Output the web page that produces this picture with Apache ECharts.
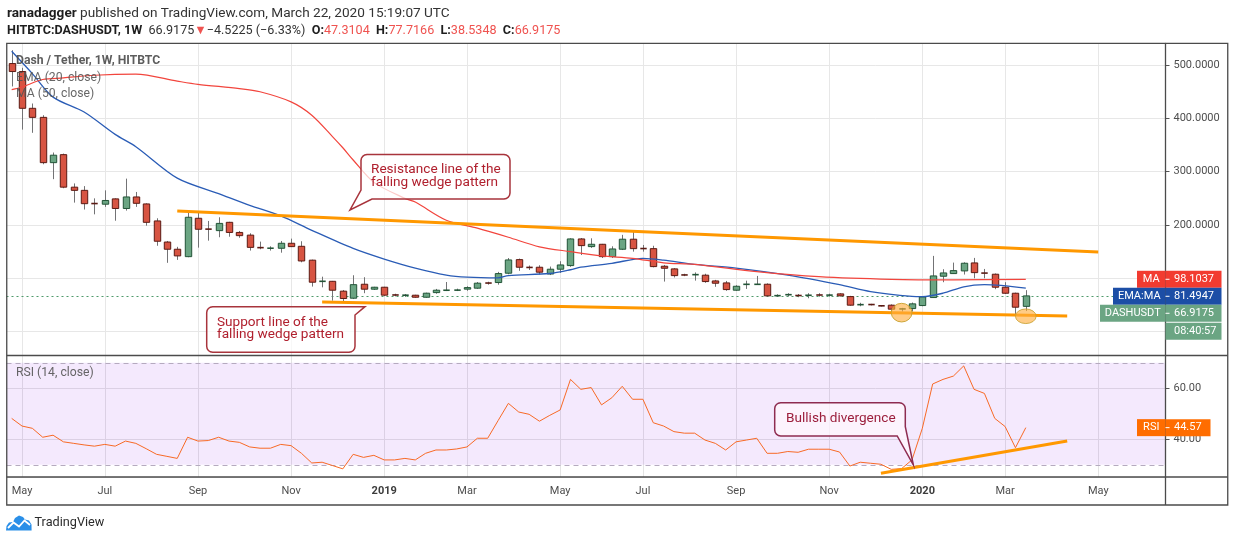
<!DOCTYPE html>
<html>
<head>
<meta charset="utf-8">
<title>DASHUSDT 1W</title>
<script src="https://cdn.jsdelivr.net/npm/echarts@6.0.0/dist/echarts.min.js"></script>
<style>
  html, body { margin: 0; padding: 0; background: #fff; }
  #chart { width: 1234px; height: 541px; }
</style>
</head>
<body>
<div id="chart"></div>
<script>
const FONT = 'Roboto, "Open Sans", sans-serif';
const MONTHS = ['Jan', 'Feb', 'Mar', 'Apr', 'May', 'Jun', 'Jul', 'Aug', 'Sep', 'Oct', 'Nov', 'Dec'];

// weekly bars, keyed by the Monday each one opens on
const firstWeek = '2018-04-30';
const weekCount = 112; // 99 traded weeks + the empty space kept on the right
const weeks = [];
for (let i = 0; i < weekCount; i++) {
  const d = new Date(Date.parse(firstWeek + 'T00:00:00Z') + i * 7 * 86400000);
  weeks.push(d.toISOString().slice(0, 10));
}

const opens = [503, 488, 419, 402, 317, 332, 271, 265, 241, 239, 249, 231, 252.6, 239.5, 207.6, 168, 154.5, 140.6, 212.6, 193,
  189.4, 205, 186, 181, 158, 156, 156.3, 165.7, 160, 134, 93, 94.3, 75.8, 62.6, 88.8, 79.5, 83.2, 69, 68, 68.2,
  64.4, 73.1, 77.3, 77.5, 79.6, 81.4, 91.3, 92, 109.5, 135, 120.7, 120.7, 108, 117, 123.8, 173.8, 159.4, 163.8, 140.6, 154.5,
  173.3, 156, 155.6, 122.6, 117.6, 106.5, 106, 105.8, 95, 91.3, 77.6, 88.5, 88.5, 88.8, 67.3, 69, 67.8, 68, 68.7, 68.3,
  70.7, 65.6, 50.4, 50.8, 48.4, 49.5, 42.4, 43.1, 48.8, 63.8, 103.8, 108.8, 113.8, 128.8, 110, 107.6, 83.2, 71.9, 47.3104];
const closes = [488, 419, 402, 317, 331, 271, 265, 240, 239.5, 246, 231, 252.6, 240.7, 205, 169.5, 154.5, 142, 214.5, 192, 191.5,
  203, 186, 180, 158, 157, 156.8, 165.7, 159.4, 132.5, 92.6, 95.6, 77.6, 62, 88, 79.5, 83.2, 68.3, 68.3, 68.5, 64.4,
  72, 77.6, 77.8, 78, 82.5, 90.8, 90.8, 108.8, 134.4, 120.7, 120, 111.4, 117, 125, 173.8, 161.3, 163.8, 140.6, 155, 173.3,
  155.6, 155.6, 121.9, 118.8, 105, 106, 107.6, 93.8, 90.7, 78.8, 85, 88.8, 88.8, 67, 67.5, 69.4, 67.5, 68.2, 68.5, 68.5,
  67, 49.5, 50.6, 50.6, 48.2, 42, 42.6, 52, 65, 104.4, 110, 114.4, 128.2, 110.6, 109.5, 83.2, 71.9, 45.7, 66.9175];
const lows = [460, 379, 373, 314, 286, 269, 242, 229, 220, 234, 208, 227, 234, 198.7, 161, 129, 134.5, 139.5, 157.5, 170.6,
  177, 178, 176, 152, 154.5, 152, 148, 159, 130, 84.4, 83, 58, 56, 61, 72, 78, 66.4, 66, 65, 63.5,
  63.5, 71, 76, 76, 76.5, 80, 88, 88, 107.5, 114, 115.5, 107, 106, 110, 121.5, 143.6, 157, 138, 138, 153,
  150, 150, 120.5, 93.8, 101.5, 104, 95.6, 91.5, 84, 76.5, 76.5, 80, 87.5, 65.5, 65.5, 66, 64.5, 62.5, 65.5, 65.5,
  66, 48.5, 47.5, 49, 47, 37, 37.5, 37.6, 47.5, 63, 92.6, 108.8, 107, 100, 100, 79.5, 70.5, 29.3, 38.5348];
const highs = [528, 495, 428, 406, 336, 334, 278, 273, 250, 265, 250, 287, 262, 240.7, 212.6, 170, 159, 224, 224, 207.6,
  214.5, 206, 188.8, 184.5, 168.8, 160, 170, 174.4, 169.5, 135, 103, 95, 78, 105.7, 102, 84, 84, 71, 70.5, 69,
  73, 80, 93, 80.5, 85, 93, 93.5, 112, 138, 137, 124, 124.5, 122, 132, 175, 175.5, 175, 164.5, 160, 181.5,
  188.8, 162.5, 161, 125, 119, 108.5, 111, 108.5, 97, 95, 87, 95.5, 104.4, 90.5, 70, 72, 70.5, 72, 72, 71,
  72, 67, 54, 52, 49.5, 51, 44.5, 54.5, 65.5, 142, 117, 129.4, 130, 138.2, 117.5, 109, 92.6, 73, 77.7166];

// [week index, value]
const ema20 = [[0, 526], [2, 484], [4, 440], [7, 412], [10, 370], [12, 347], [16, 288], [20, 259], [23, 237], [26, 217],
  [29, 190], [33, 156], [36, 136], [39, 119], [42, 106], [44, 102], [47, 100.7], [48, 105], [52, 109], [54, 116],
  [55, 121], [58, 128], [61, 137.5], [63, 134], [66, 126], [70, 119], [75, 106], [80, 88], [83, 75], [87, 66],
  [88, 65.5], [90, 72], [92, 84], [94, 88], [98, 81.4947]];
const ma50 = [[0, 454], [1, 459], [3, 473], [5, 476], [8, 481], [12, 483], [16, 470], [18, 464], [22, 456], [24, 450],
  [27, 431], [29, 406], [31, 366], [32, 345], [33, 322], [35, 280], [38, 250], [39, 243], [42, 209], [45, 194],
  [48, 177], [51, 159], [54, 150], [57, 142], [60, 137.5], [63, 129], [66, 126], [72, 112.5], [78, 103], [85, 98],
  [91, 97], [98, 98.1037]];
const rsi14 = [48.2, 45.2, 44.3, 40.8, 41.6, 39, 38.4, 37.8, 37.3, 38, 37.3, 39.3, 38.4, 36.3, 34.1, 33.3, 32.5, 40.8, 39.3, 39.5,
  40.8, 39.3, 38.8, 37, 36.5, 36.5, 38, 37.5, 34.5, 30.7, 31, 29.7, 28.4, 34.1, 32.9, 33.7, 31.9, 31.9, 32.5, 31.9,
  34.5, 35.8, 35.8, 36.2, 37, 40.4, 40.4, 47.3, 54.1, 50.7, 49.8, 47.1, 49.4, 51.5, 63.5, 59.6, 60.3, 53.5, 56.3, 60.8,
  55.7, 55.7, 46.5, 45.2, 43, 42.4, 42.4, 39.7, 38.4, 35.8, 39, 39.7, 40.4, 34.5, 34.5, 35.2, 34.9, 36.1, 36.1, 36.1,
  35, 29.5, 31, 30.6, 30.2, 28.2, 28.5, 31.9, 44.3, 61.7, 63.5, 64.8, 68.8, 59.6, 58, 48.2, 45, 36.7, 44.57];

const lastPrice = 66.9175;
const lastEma = 81.4947;
const lastMa = 98.1037;
const lastRsi = 44.57;

// drawn annotations: [week index, value] end points
const resistanceLine = [[16, 226.3], [105, 149.4]];
const supportLine = [[30, 55.6], [102, 29.3]];
const rsiTrendLine = [[84, 26.7], [102, 39.3]];
// highlighted lows: [week index, price, half width in weeks, half height in price]
const lowHighlights = [[86, 35.5, 2.0, 17.5], [97.5, 28.7, 1.5, 13.7]];

const candles = opens.map((o, i) => [i, o, closes[i], lows[i], highs[i]]);

function isLabelWeek(i) {
  const d = new Date(weeks[i] + 'T00:00:00Z');
  return d.getUTCDate() <= 7 && d.getUTCMonth() % 2 === 0;
}
const gridWeeks = weeks.filter((w, i) => isLabelWeek(i));

function monthLabel(value) {
  const d = new Date(value + 'T00:00:00Z');
  const m = d.getUTCMonth();
  return m === 0 ? '{y|' + d.getUTCFullYear() + '}' : MONTHS[m];
}

const measureCtx = document.createElement('canvas').getContext('2d');
function fitSize(text, weight, width) {
  measureCtx.font = weight + ' 100px ' + FONT;
  const w = measureCtx.measureText(text).width;
  return w > 0 ? Math.round(1000 * width / w) / 10 : 12;
}

function renderCandle(params, api) {
  const o = api.value(1), c = api.value(2);
  const pO = api.coord([api.value(0), o]);
  const pC = api.coord([api.value(0), c]);
  const pL = api.coord([api.value(0), api.value(3)]);
  const pH = api.coord([api.value(0), api.value(4)]);
  const w = api.size([1, 0])[0] * 0.62;
  const up = c >= o;
  const x = Math.round(pO[0]) + 0.5;
  const top = Math.min(pO[1], pC[1]);
  const bot = Math.max(pO[1], pC[1]);
  const children = [{
    type: 'line',
    shape: { x1: x, y1: pH[1], x2: x, y2: pL[1] },
    style: { stroke: '#737375', lineWidth: 1 }
  }];
  if (bot - top < 1.5) {
    children.push({
      type: 'line',
      shape: { x1: x - w / 2, y1: (top + bot) / 2, x2: x + w / 2, y2: (top + bot) / 2 },
      style: { stroke: up ? '#225437' : '#5b1a13', lineWidth: 1.6 }
    });
  } else {
    children.push({
      type: 'rect',
      shape: { x: x - w / 2, y: top, width: w, height: bot - top },
      style: { fill: up ? '#6ba583' : '#d75442', stroke: up ? '#225437' : '#5b1a13', lineWidth: 1 }
    });
  }
  return { type: 'group', children: children };
}

function renderHighlight(params, api) {
  const c = api.coord([api.value(0), api.value(1)]);
  const s = api.size([api.value(2), api.value(3)]);
  return {
    type: 'circle',
    x: c[0], y: c[1], scaleY: s[1] / s[0],
    shape: { cx: 0, cy: 0, r: s[0] },
    style: { fill: 'rgba(255,172,60,0.62)', stroke: '#c9a232', lineWidth: 1 }
  };
}

const segment = (pts) => [{ coord: [weeks[pts[0][0]], pts[0][1]] }, { coord: [weeks[pts[1][0]], pts[1][1]] }];
const plainMark = { silent: true, symbol: ['none', 'none'], label: { show: false }, emphasis: { disabled: true }, animation: false };

const axisText = { color: '#4e4e4e', fontSize: 11, fontFamily: FONT };

const option = {
  animation: false,
  backgroundColor: '#ffffff',
  grid: [
    { left: 6.5, top: 43.3, width: 1159, height: 311.7, outerBoundsMode: 'none' },
    { left: 6.5, top: 355.7, width: 1159, height: 121.3, outerBoundsMode: 'none' }
  ],
  xAxis: [
    {
      type: 'category', gridIndex: 0, data: weeks, boundaryGap: true,
      axisLine: { show: false }, axisTick: { show: false }, axisLabel: { show: false }, splitLine: { show: false }
    },
    {
      type: 'category', gridIndex: 1, data: weeks, boundaryGap: true,
      axisLine: { show: false }, axisTick: { show: false }, splitLine: { show: false },
      axisLabel: Object.assign({
        interval: (i) => isLabelWeek(i), formatter: monthLabel, margin: 9,
        rich: { y: { fontWeight: 'bold', color: '#3c3c3c', fontSize: 11, fontFamily: FONT } }
      }, axisText)
    }
  ],
  yAxis: [
    {
      type: 'value', gridIndex: 0, position: 'right', min: -44, max: 541, splitNumber: 6,
      axisLine: { show: true, lineStyle: { color: '#555' } },
      axisTick: { show: true, length: 4, lineStyle: { color: '#555' } },
      axisLabel: Object.assign({ margin: 8, showMinLabel: false, showMaxLabel: false, formatter: (v) => v.toFixed(4) }, axisText),
      splitLine: { lineStyle: { color: '#e7e7e7' } }
    },
    {
      type: 'value', gridIndex: 1, position: 'right', min: 25.2, max: 72.8, splitNumber: 2,
      axisLine: { show: true, lineStyle: { color: '#555' } },
      axisTick: { show: true, length: 4, lineStyle: { color: '#555' } },
      axisLabel: Object.assign({ margin: 8, showMinLabel: false, showMaxLabel: false, formatter: (v) => v.toFixed(2) }, axisText),
      splitLine: { lineStyle: { color: '#e4e4e4' } }
    }
  ],
  series: [
    {
      // vertical grid lines at the labelled months, price pane
      type: 'line', xAxisIndex: 0, yAxisIndex: 0, data: [], silent: true,
      markLine: Object.assign({ z: 1, lineStyle: { color: '#e7e7e7', width: 1, type: 'solid' },
        data: gridWeeks.map((w) => ({ xAxis: w })) }, plainMark)
    },
    {
      type: 'line', xAxisIndex: 1, yAxisIndex: 1, data: [], silent: true,
      markLine: Object.assign({ z: 1, lineStyle: { color: '#e4e4e4', width: 1, type: 'solid' },
        data: gridWeeks.map((w) => ({ xAxis: w })) }, plainMark)
    },
    {
      name: 'DASHUSDT', type: 'custom', xAxisIndex: 0, yAxisIndex: 0, z: 3,
      renderItem: renderCandle, encode: { x: 0, y: [1, 2, 3, 4] }, data: candles,
      markLine: Object.assign({ z: 2, lineStyle: { color: '#4f9a6b', width: 1, type: [2, 3] },
        data: [{ yAxis: lastPrice }] }, plainMark)
    },
    {
      name: 'EMA (20, close)', type: 'line', xAxisIndex: 0, yAxisIndex: 0, z: 4,
      data: ema20.map((p) => [weeks[p[0]], p[1]]), showSymbol: false, smooth: 0.3,
      lineStyle: { color: '#2a5cb6', width: 1.3 }
    },
    {
      name: 'MA (50, close)', type: 'line', xAxisIndex: 0, yAxisIndex: 0, z: 4,
      data: ma50.map((p) => [weeks[p[0]], p[1]]), showSymbol: false, smooth: 0.3,
      lineStyle: { color: '#f2453d', width: 1.2 }
    },
    {
      // wedge trend lines
      type: 'line', xAxisIndex: 0, yAxisIndex: 0, data: [], silent: true,
      markLine: Object.assign({ z: 5, lineStyle: { color: '#ff9800', width: 3, type: 'solid' },
        data: [segment(resistanceLine), segment(supportLine)] }, plainMark)
    },
    {
      type: 'custom', xAxisIndex: 0, yAxisIndex: 0, z: 6, silent: true,
      renderItem: renderHighlight, encode: { x: 0, y: 1 }, data: lowHighlights
    },
    {
      name: 'RSI (14, close)', type: 'line', xAxisIndex: 1, yAxisIndex: 1, z: 3,
      data: rsi14, showSymbol: false, lineStyle: { color: '#f86a26', width: 1 },
      markArea: { silent: true, z: 2, itemStyle: { color: 'rgba(150,40,240,0.1)' }, data: [[{ yAxis: 70 }, { yAxis: 30 }]] },
      markLine: Object.assign({ z: 2.5, lineStyle: { color: '#b5aabf', width: 1, type: [5, 4] },
        data: [{ yAxis: 70 }, { yAxis: 30 }] }, plainMark)
    },
    {
      type: 'line', xAxisIndex: 1, yAxisIndex: 1, data: [], silent: true,
      markLine: Object.assign({ z: 5, lineStyle: { color: '#ff9800', width: 3, type: 'solid' },
        data: [segment(rsiTrendLine)] }, plainMark)
    }
  ]
};

const chart = echarts.init(document.getElementById('chart'));
chart.setOption(option);

// ---- texts, callouts, price badges and frame ----
const AXIS_X = 1165.5;
const hdrSize = fitSize('ranadagger published on TradingView.com, March 22, 2020 15:19:07 UTC', 'normal', 408);
const legendSize = fitSize('EMA (20, close)', 'normal', 85);
const calloutSize = fitSize('falling wedge pattern', 'normal', 127);
const logoSize = fitSize('TradingView', 'normal', 70);

function text(x, y, str, size, extra) {
  return {
    type: 'text', x: x, y: y, z: 110, silent: true,
    style: Object.assign({
      text: str, fontSize: size, fontFamily: FONT, fill: '#555',
      verticalAlign: 'middle', textVerticalAlign: 'middle'
    }, extra || {})
  };
}

// quarter arc of a rounded corner, angles in degrees (screen coordinates)
function arc(cx, cy, r, a0, a1) {
  const pts = [];
  for (let k = 0; k <= 4; k++) {
    const a = (a0 + (a1 - a0) * k / 4) * Math.PI / 180;
    pts.push([cx + r * Math.cos(a), cy + r * Math.sin(a)]);
  }
  return pts;
}

function badge(label, labelLeft, value, color, yc, valueWidth, withTick) {
  const h = 17, top = yc - h / 2;
  const els = [];
  if (label) {
    els.push({ type: 'rect', z: 120, silent: true, shape: { x: labelLeft, y: top, width: AXIS_X - labelLeft, height: h }, style: { fill: color } });
    const t = text((labelLeft + AXIS_X) / 2, yc, label, 11, { fill: '#fff', align: 'center', textAlign: 'center' });
    t.z = 122;
    els.push(t);
  }
  els.push({ type: 'rect', z: 120, silent: true, shape: { x: AXIS_X, y: top, width: valueWidth, height: h }, style: { fill: color } });
  if (withTick) {
    els.push({ type: 'line', z: 121, silent: true, shape: { x1: AXIS_X, y1: yc, x2: AXIS_X + 4, y2: yc }, style: { stroke: '#fff', lineWidth: 1 } });
  }
  const v = text(AXIS_X + 8.5, yc, value, 11, { fill: '#fff' });
  v.z = 122;
  els.push(v);
  return els;
}

const yPrice = (v) => chart.convertToPixel({ yAxisIndex: 0 }, v);
const yMa = yPrice(lastMa);
const yEma = Math.max(yPrice(lastEma), yMa + 17);
const yLast = Math.max(yPrice(lastPrice), yEma + 17);
const yTimer = yLast + 18;
const yRsi = chart.convertToPixel({ yAxisIndex: 1 }, lastRsi);

const calloutStyle = { fill: 'rgba(255,255,255,0.72)', stroke: '#a8343c', lineWidth: 1.5 };
const red = '#ef5350';

const resistanceBox = [].concat(
  arc(367, 160.5, 6, 180, 270), arc(504, 160.5, 6, 270, 360), arc(504, 193, 6, 0, 90),
  [[372, 199], [350, 210], [361, 190]]);
const supportBox = [].concat(
  arc(212.7, 312.7, 6, 180, 270), [[365, 306.7], [355, 315]],
  arc(349, 346.3, 6, 0, 90), arc(212.7, 346.3, 6, 90, 180));
const divergenceBox = [].concat(
  arc(780.7, 408.7, 6, 180, 270), arc(899.3, 408.7, 6, 270, 360),
  [[905.3, 426.7], [913.4, 465], [897.2, 436]], arc(780.7, 430, 6, 90, 180));

const graphics = [
  // header
  text(7, 13.3, '{b|ranadagger} published on TradingView.com, March 22, 2020 15:19:07 UTC', hdrSize * 1.08, {
    fill: '#333',
    rich: { b: { fontWeight: 'bold', fill: '#1e1e1e', color: '#1e1e1e', fontSize: hdrSize * 1.08, fontFamily: FONT } }
  }),
  text(7, 30.7, '{b|HITBTC:DASHUSDT, 1W}  66.9175{r|\u25BC}\u22124.5225 (\u22126.33%)  {b|O:}{r|47.3104}  {b|H:}{r|77.7166}  {b|L:}{r|38.5348}  {b|C:}{r|66.9175}', hdrSize, {
    fill: '#333',
    rich: {
      b: { fontWeight: 'bold', fill: '#1e1e1e', color: '#1e1e1e', fontSize: hdrSize, fontFamily: FONT },
      r: { fill: red, color: red, fontSize: hdrSize, fontFamily: FONT }
    }
  }),
  // pane legends
  text(16, 60.7, 'Dash / Tether, 1W, HITBTC', legendSize, { fontWeight: 'bold', fill: 'rgba(75,75,75,0.9)' }),
  text(16, 77.7, 'EMA (20, close)', legendSize, { fill: 'rgba(85,85,85,0.9)' }),
  text(16, 94.3, 'MA (50, close)', legendSize, { fill: 'rgba(85,85,85,0.9)' }),
  text(16, 373, 'RSI (14, close)', legendSize, { fill: 'rgba(85,85,85,0.9)' }),
  // callouts
  { type: 'polygon', z: 105, silent: true, style: calloutStyle, shape: { points: resistanceBox } },
  text(371, 170, 'Resistance line of the', calloutSize, { fill: '#b0202e' }),
  text(371, 182.5, 'falling wedge pattern', calloutSize, { fill: '#b0202e' }),
  { type: 'polygon', z: 105, silent: true, style: calloutStyle, shape: { points: supportBox } },
  text(217, 322.5, 'Support line of the', calloutSize, { fill: '#b0202e' }),
  text(217, 335, 'falling wedge pattern', calloutSize, { fill: '#b0202e' }),
  { type: 'polygon', z: 105, silent: true, style: { fill: 'rgba(255,245,252,0.75)', stroke: '#8e2c50', lineWidth: 1.5 },
    shape: { points: divergenceBox } },
  text(786, 418.5, 'Bullish divergence', calloutSize, { fill: '#9c1f3c' }),
  // frame
  { type: 'rect', z: 100, silent: true, shape: { x: 6.75, y: 43.3, width: 1221, height: 461.7 }, style: { fill: 'none', stroke: '#4b4b4b', lineWidth: 1.3 } },
  { type: 'line', z: 100, silent: true, shape: { x1: 6.75, y1: 355.5, x2: 1227.75, y2: 355.5 }, style: { stroke: '#4b4b4b', lineWidth: 1.3 } },
  { type: 'line', z: 100, silent: true, shape: { x1: 6.75, y1: 477, x2: 1227.75, y2: 477 }, style: { stroke: '#4b4b4b', lineWidth: 1.3 } },
  { type: 'line', z: 100, silent: true, shape: { x1: AXIS_X, y1: 43.3, x2: AXIS_X, y2: 505 }, style: { stroke: '#4b4b4b', lineWidth: 1.3 } },
  // logo
  { type: 'polygon', z: 100, silent: true, style: { fill: '#2a8fe8' },
    shape: { points: [[6, 530.5], [6.5, 526], [9, 522.5], [13, 522], [15, 518], [19, 515.5], [23, 517], [25, 519.5], [29, 520.5], [31.5, 524.5], [31.6, 530.5]] } },
  { type: 'polyline', z: 101, silent: true, style: { fill: 'none', stroke: '#ffffff', lineWidth: 1.8 },
    shape: { points: [[8, 528], [13.5, 522.5], [19, 526.5], [24.5, 520.5], [30, 525]] } },
  text(34.5, 522.7, 'TradingView', logoSize, { fill: '#2b2b2b' })
]
  .concat(badge('MA', 1137, lastMa.toFixed(4), '#f23b30', yMa, 56, true))
  .concat(badge('EMA:MA', 1113, lastEma.toFixed(4), '#1c4ea6', yEma, 56, true))
  .concat(badge('DASHUSDT', 1100, lastPrice.toFixed(4), '#6ba583', yLast, 56, true))
  .concat(badge('', 0, '08:40:57', '#6ba583', yTimer, 56, false))
  .concat(badge('RSI', 1137, lastRsi.toFixed(2), '#ff6d00', yRsi, 45, true));

chart.setOption({ graphic: graphics });
</script>
</body>
</html>
